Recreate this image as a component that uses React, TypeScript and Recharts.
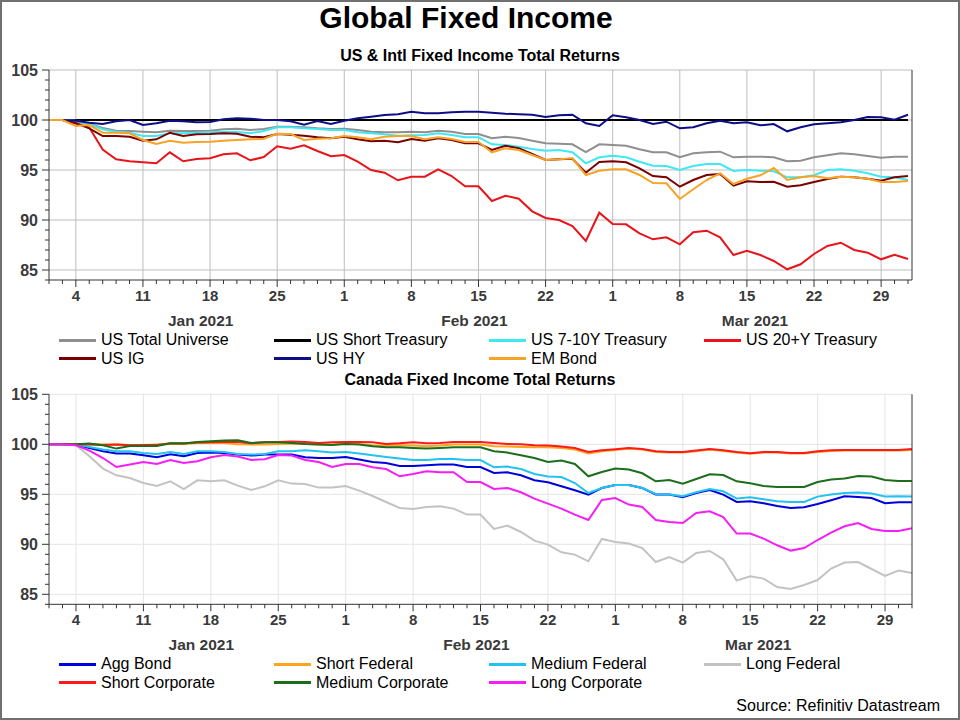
import React from "react"
import { LineChart, Line, XAxis, YAxis, CartesianGrid, Legend } from "recharts"

// business days, 31 Dec 2020 .. 31 Mar 2021
const dates = [
  "2020-12-31", "2021-01-01",
  "2021-01-04", "2021-01-05", "2021-01-06", "2021-01-07", "2021-01-08",
  "2021-01-11", "2021-01-12", "2021-01-13", "2021-01-14", "2021-01-15",
  "2021-01-18", "2021-01-19", "2021-01-20", "2021-01-21", "2021-01-22",
  "2021-01-25", "2021-01-26", "2021-01-27", "2021-01-28", "2021-01-29",
  "2021-02-01", "2021-02-02", "2021-02-03", "2021-02-04", "2021-02-05",
  "2021-02-08", "2021-02-09", "2021-02-10", "2021-02-11", "2021-02-12",
  "2021-02-15", "2021-02-16", "2021-02-17", "2021-02-18", "2021-02-19",
  "2021-02-22", "2021-02-23", "2021-02-24", "2021-02-25", "2021-02-26",
  "2021-03-01", "2021-03-02", "2021-03-03", "2021-03-04", "2021-03-05",
  "2021-03-08", "2021-03-09", "2021-03-10", "2021-03-11", "2021-03-12",
  "2021-03-15", "2021-03-16", "2021-03-17", "2021-03-18", "2021-03-19",
  "2021-03-22", "2021-03-23", "2021-03-24", "2021-03-25", "2021-03-26",
  "2021-03-29", "2021-03-30", "2021-03-31",
]

const mondayIdx = [2, 7, 12, 17, 22, 27, 32, 37, 42, 47, 52, 57, 62]
const mondayLabels = ["4", "11", "18", "25", "1", "8", "15", "22", "1", "8", "15", "22", "29"]
const monthLabels = ["Jan 2021", "Feb 2021", "Mar 2021"]
const monthCenters = [11.3, 31.7, 52.6]
const yTicks = [84, 85, 86, 87, 88, 89, 90, 91, 92, 93, 94, 95, 96, 97, 98, 99, 100, 101, 102, 103, 104, 105]
const yGrid = [85, 90, 95, 100, 105]

// US & Intl
const usTotalUniverse = [
  100, 100, 99.87, 99.6, 99.2, 98.93, 98.9, 98.83, 98.77, 98.93, 98.9, 98.9, 98.93, 99.07, 99.13, 99.0, 99.1, 99.33, 99.33, 99.27, 99.17, 99.1,
  99.13, 99.0, 98.83, 98.77, 98.77, 98.83, 98.77, 98.93, 98.83, 98.6, 98.6, 98.17, 98.33, 98.2, 97.93, 97.67, 97.63, 97.57, 96.8, 97.57, 97.5,
  97.43, 97.07, 96.77, 96.77, 96.27, 96.67, 96.77, 96.83, 96.27, 96.33, 96.33, 96.27, 95.87, 95.93, 96.27, 96.47, 96.67, 96.57, 96.4, 96.23, 96.33, 96.33,
]
const usShortTreasury = [
  100, 100, 100, 100, 100, 100, 100, 100, 100, 100, 100, 100, 100, 100, 100, 100, 100, 100, 100, 100, 100, 100,
  100, 100, 100, 100, 100, 100, 100, 100, 100, 100, 100, 100, 100, 100, 100, 100, 100, 100, 100, 100, 100,
  100, 100, 100, 100, 100, 100, 100, 100, 100, 100, 100, 100, 100, 100, 100, 100, 100, 100, 100, 100, 100, 100,
]
const us710Treasury = [
  100, 100, 99.93, 99.6, 99.07, 98.83, 98.73, 98.4, 98.4, 98.67, 98.67, 98.73, 98.77, 98.83, 98.8, 98.67, 98.9, 99.27, 99.27, 99.17, 99.1, 99.0,
  99.0, 98.77, 98.67, 98.57, 98.43, 98.47, 98.5, 98.67, 98.5, 98.27, 98.27, 97.57, 97.5, 97.33, 97.1, 96.93, 97.0, 96.77, 95.67, 96.27, 96.43,
  96.27, 95.83, 95.43, 95.4, 95.0, 95.4, 95.6, 95.6, 94.9, 95.0, 94.93, 94.87, 94.27, 94.27, 94.47, 95.0, 95.07, 94.93, 94.67, 94.33, 94.27, 94.0,
]
const us20Treasury = [
  100, 100, 99.67, 99.25, 97.05, 96.07, 95.87, 95.77, 95.67, 96.77, 95.87, 96.1, 96.17, 96.57, 96.67, 95.97, 96.3, 97.37, 97.13, 97.47, 96.9, 96.37,
  96.5, 95.83, 95.0, 94.73, 93.97, 94.33, 94.33, 95.07, 94.4, 93.37, 93.37, 91.9, 92.43, 92.13, 90.87, 90.2, 90.0, 89.4, 87.9, 90.73, 89.6,
  89.57, 88.67, 88.07, 88.27, 87.57, 88.77, 88.93, 88.27, 86.5, 86.93, 86.5, 85.9, 85.07, 85.57, 86.6, 87.4, 87.73, 87.0, 86.73, 86.07, 86.53, 86.1,
]
const usIG = [
  100, 100, 99.67, 99.17, 98.4, 98.4, 98.33, 97.93, 98.07, 98.73, 98.4, 98.57, 98.6, 98.67, 98.63, 98.33, 98.27, 98.6, 98.53, 98.43, 98.27, 98.17,
  98.33, 98.07, 97.87, 97.93, 97.77, 98.1, 97.93, 98.17, 98.0, 97.67, 97.67, 97.0, 97.43, 97.17, 96.6, 96.0, 96.07, 96.13, 94.73, 95.8, 95.87,
  95.77, 95.17, 94.4, 94.27, 93.33, 94.0, 94.5, 94.6, 93.43, 93.87, 93.8, 93.83, 93.33, 93.47, 93.8, 94.1, 94.33, 94.27, 94.13, 93.93, 94.27, 94.4,
]
const usHY = [
  100, 100, 99.93, 99.73, 99.6, 99.87, 100.0, 99.5, 99.67, 99.93, 99.87, 99.77, 99.8, 100.07, 100.17, 100.13, 100.0, 100.0, 99.87, 99.53, 99.9, 99.6,
  99.93, 100.17, 100.33, 100.5, 100.57, 100.83, 100.67, 100.67, 100.77, 100.83, 100.83, 100.73, 100.63, 100.57, 100.53, 100.3, 100.47, 100.53, 99.67, 99.4, 100.47,
  100.27, 100.0, 99.6, 99.83, 99.17, 99.27, 99.67, 99.93, 99.67, 99.77, 99.47, 99.6, 98.87, 99.27, 99.57, 99.67, 99.77, 100.0, 100.3, 100.27, 100.03, 100.53,
]
const emBond = [
  100, 100, 99.4, 99.5, 98.73, 98.73, 98.67, 98.0, 97.6, 97.93, 97.73, 97.8, 97.83, 97.93, 98.0, 98.07, 98.13, 98.63, 98.6, 98.0, 98.13, 98.17,
  98.4, 98.27, 98.07, 98.33, 98.4, 98.4, 98.07, 98.27, 98.1, 97.8, 97.8, 96.77, 97.17, 97.0, 96.5, 96.0, 96.07, 96.17, 94.5, 94.93, 95.07,
  95.07, 94.5, 93.7, 93.67, 92.1, 93.07, 94.0, 94.67, 93.6, 94.13, 94.47, 95.2, 94.0, 94.27, 94.4, 94.17, 94.33, 94.27, 94.13, 93.8, 93.8, 93.9,
]

// Canada
const aggBond = [
  100, 100, 99.93, 99.63, 99.3, 99.07, 99.07, 98.9, 98.7, 99.0, 98.8, 99.13, 99.17, 99.13, 98.97, 98.87, 98.97, 98.97, 98.97, 98.7, 98.63, 98.63,
  98.73, 98.47, 98.23, 98.13, 97.83, 97.83, 97.9, 97.97, 97.97, 97.73, 97.73, 97.13, 97.2, 96.9, 96.4, 96.2, 95.8, 95.4, 94.97, 95.63, 95.93,
  95.93, 95.63, 94.97, 94.97, 94.7, 95.13, 95.43, 94.97, 94.23, 94.3, 94.1, 93.83, 93.63, 93.7, 94.03, 94.4, 94.8, 94.73, 94.63, 94.1, 94.2, 94.2,
]
const shortFederal = [
  100, 100, 100, 100.0, 99.97, 99.97, 99.93, 99.93, 99.97, 100.03, 100.03, 100.13, 100.13, 100.13, 100.0, 99.97, 99.97, 100.03, 100.07, 100.03, 99.97, 99.97,
  100.07, 100.03, 99.9, 99.87, 99.9, 99.87, 99.8, 99.87, 99.97, 99.97, 99.97, 99.8, 99.77, 99.73, 99.7, 99.7, 99.63, 99.47, 99.07, 99.3, 99.43,
  99.57, 99.47, 99.23, 99.17, 99.17, 99.3, 99.47, 99.33, 99.17, 99.05, 99.17, 99.17, 99.07, 99.07, 99.23, 99.33, 99.37, 99.37, 99.37, 99.37, 99.37, 99.43,
]
const mediumFederal = [
  100, 100, 99.97, 99.73, 99.47, 99.3, 99.3, 99.13, 99.03, 99.23, 99.03, 99.3, 99.3, 99.23, 99.03, 98.97, 99.03, 99.3, 99.3, 99.4, 99.3, 99.17,
  99.23, 99.07, 98.9, 98.73, 98.57, 98.43, 98.43, 98.53, 98.53, 98.43, 98.43, 97.7, 97.77, 97.53, 97.03, 96.77, 96.73, 96.13, 95.13, 95.63, 95.93,
  95.93, 95.63, 95.03, 94.97, 94.8, 95.2, 95.53, 95.3, 94.57, 94.7, 94.5, 94.3, 94.23, 94.23, 94.77, 94.97, 95.13, 95.17, 95.07, 94.77, 94.8, 94.77,
]
const longFederal = [
  100, 100, 99.9, 98.8, 97.57, 96.9, 96.63, 96.13, 95.83, 96.3, 95.53, 96.4, 96.3, 96.4, 95.87, 95.43, 95.8, 96.4, 96.07, 96.03, 95.67, 95.67,
  95.83, 95.37, 94.83, 94.23, 93.63, 93.53, 93.73, 93.8, 93.57, 92.97, 92.97, 91.53, 91.87, 91.23, 90.37, 89.97, 89.2, 88.97, 88.3, 90.53, 90.23,
  90.07, 89.63, 88.23, 88.73, 88.17, 89.13, 89.33, 88.5, 86.37, 86.8, 86.57, 85.73, 85.53, 85.93, 86.43, 87.57, 88.17, 88.23, 87.53, 86.83, 87.37, 87.13,
]
const shortCorporate = [
  100, 100, 100, 99.97, 99.93, 99.97, 99.9, 99.93, 99.93, 100.1, 100.1, 100.17, 100.2, 100.23, 100.23, 100.1, 100.2, 100.23, 100.27, 100.23, 100.13, 100.2,
  100.23, 100.23, 100.2, 100.03, 100.1, 100.2, 100.1, 100.13, 100.23, 100.23, 100.23, 100.13, 100.03, 100.0, 99.9, 99.87, 99.77, 99.63, 99.23, 99.4, 99.5,
  99.63, 99.53, 99.3, 99.23, 99.23, 99.37, 99.53, 99.4, 99.23, 99.1, 99.23, 99.23, 99.13, 99.13, 99.3, 99.4, 99.43, 99.43, 99.43, 99.43, 99.43, 99.53,
]
const mediumCorporate = [
  100, 100, 100, 100.07, 99.9, 99.57, 99.83, 99.83, 99.83, 100.1, 100.07, 100.23, 100.3, 100.37, 100.4, 100.13, 100.2, 100.2, 100.13, 100.03, 99.97, 99.93,
  100.03, 99.97, 99.8, 99.7, 99.7, 99.63, 99.57, 99.63, 99.7, 99.7, 99.7, 99.3, 99.17, 98.9, 98.63, 98.23, 98.37, 98.03, 96.8, 97.23, 97.57,
  97.47, 97.1, 96.3, 96.43, 96.07, 96.53, 97.0, 96.93, 96.3, 96.1, 95.83, 95.73, 95.73, 95.73, 96.23, 96.47, 96.57, 96.83, 96.77, 96.43, 96.33, 96.33,
]
const longCorporate = [
  100, 100, 99.9, 99.37, 98.63, 97.73, 97.97, 98.23, 98.03, 98.43, 98.13, 98.3, 98.7, 98.93, 98.77, 98.43, 98.5, 98.93, 98.87, 98.43, 98.23, 97.73,
  98.03, 98.03, 97.7, 97.53, 96.8, 97.03, 97.3, 97.2, 97.2, 96.23, 96.23, 95.53, 95.63, 95.2, 94.57, 94.07, 93.57, 92.97, 92.43, 94.43, 94.63,
  93.97, 93.73, 92.43, 92.23, 92.13, 93.13, 93.3, 92.73, 91.07, 91.07, 90.57, 89.9, 89.37, 89.63, 90.43, 91.17, 91.8, 92.13, 91.53, 91.33, 91.33, 91.6,
]

const usSeries = [
  { key: "usTotal", name: "US Total Universe", color: "#8f8f8f", values: usTotalUniverse },
  { key: "usShort", name: "US Short Treasury", color: "#000000", values: usShortTreasury },
  { key: "us710", name: "US 7-10Y Treasury", color: "#3ee9f2", values: us710Treasury },
  { key: "us20", name: "US 20+Y Treasury", color: "#e8141a", values: us20Treasury },
  { key: "usIG", name: "US IG", color: "#7a0000", values: usIG },
  { key: "usHY", name: "US HY", color: "#0d0d86", values: usHY },
  { key: "em", name: "EM Bond", color: "#f7a325", values: emBond },
]

const caSeries = [
  { key: "agg", name: "Agg Bond", color: "#0000dd", values: aggBond },
  { key: "sFed", name: "Short Federal", color: "#ffa41c", values: shortFederal },
  { key: "mFed", name: "Medium Federal", color: "#22c2f2", values: mediumFederal },
  { key: "lFed", name: "Long Federal", color: "#c3c3c3", values: longFederal },
  { key: "sCorp", name: "Short Corporate", color: "#ff1a1a", values: shortCorporate },
  { key: "mCorp", name: "Medium Corporate", color: "#1b6e1b", values: mediumCorporate },
  { key: "lCorp", name: "Long Corporate", color: "#f51ef5", values: longCorporate },
]

type Series = { key: string; name: string; color: string; values: number[] }

const toRows = (series: Series[]) =>
  dates.map((d, i) => {
    const row: any = { i, date: d }
    series.forEach((s) => (row[s.key] = s.values[i]))
    return row
  })

const FONT = "'Liberation Sans', Arial, sans-serif"
const AXIS = "#333333"
const dayTicks = dates.map((_, i) => i)

const DayTick = (props: any) => {
  const { x, y, payload } = props
  const k = mondayIdx.indexOf(payload.value)
  const major = k >= 0
  return (
    <g>
      <line x1={x} y1={y} x2={x} y2={y + (major ? 7 : 4)} stroke={AXIS} />
      {major && (
        <text x={x} y={y + 21} textAnchor="middle" fontFamily={FONT} fontSize={15} fontWeight="bold" fill="#3a3a3a">
          {mondayLabels[k]}
        </text>
      )}
    </g>
  )
}

const MonthTick = (props: any) => {
  const { x, y, payload } = props
  const k = monthCenters.indexOf(payload.value)
  return (
    <text x={x} y={y + 22} textAnchor="middle" fontFamily={FONT} fontSize={15.5} fontWeight="bold" fill="#3a3a3a">
      {monthLabels[k]}
    </text>
  )
}

const SideTick = (props: any) => {
  const { x, y, payload, side } = props
  const major = payload.value % 5 === 0
  const dir = side === "left" ? -1 : 1
  return (
    <g>
      <line x1={x} y1={y} x2={x + dir * (major ? 7 : 4)} y2={y} stroke={AXIS} />
      {major && (
        <text
          x={x + dir * 11}
          y={y + 5.5}
          textAnchor={side === "left" ? "end" : "start"}
          fontFamily={FONT}
          fontSize={16}
          fontWeight="bold"
          fill="#3a3a3a"
        >
          {payload.value}
        </text>
      )}
    </g>
  )
}

const LegendBox = ({ items }: { items: Series[] }) => (
  <div style={{ position: "relative", width: 960, height: 38, fontFamily: FONT, fontSize: 16, color: "#000" }}>
    {items.map((s, n) => (
      <div
        key={s.key}
        style={{
          position: "absolute",
          left: 59 + (n % 4) * 215,
          top: Math.floor(n / 4) * 18.5,
          height: 18,
          display: "flex",
          alignItems: "center",
          whiteSpace: "nowrap",
        }}
      >
        <span style={{ display: "inline-block", width: 37, height: 3, background: s.color, marginRight: 5 }} />
        {s.name}
      </div>
    ))}
  </div>
)

interface PanelProps {
  series: Series[]
  height: number
  top: number
  bottom: number
  xMax: number
  gridColor: string
  legendTop: number
}

function Panel({ series, height, top, bottom, xMax, gridColor, legendTop }: PanelProps) {
  const rows = toRows(series)
  return (
    <LineChart width={960} height={height} data={rows} margin={{ top, right: 0, bottom, left: 0 }}>
      <CartesianGrid
        xAxisId="d"
        yAxisId="l"
        stroke={gridColor}
        verticalValues={mondayIdx}
        horizontalValues={yGrid}
      />
      <XAxis
        xAxisId="d"
        dataKey="i"
        type="number"
        domain={[0, xMax]}
        ticks={dayTicks}
        interval={0}
        height={24}
        tickSize={0}
        tickMargin={0}
        tickLine={false}
        axisLine={{ stroke: AXIS }}
        tick={(p: any) => <DayTick {...p} />}
      />
      <XAxis
        xAxisId="m"
        dataKey="i"
        type="number"
        domain={[0, xMax]}
        ticks={monthCenters}
        interval={0}
        height={30}
        tickSize={0}
        tickMargin={0}
        tickLine={false}
        axisLine={false}
        tick={(p: any) => <MonthTick {...p} />}
      />
      <YAxis
        yAxisId="l"
        orientation="left"
        width={49}
        domain={[84, 105]}
        ticks={yTicks}
        interval={0}
        tickSize={0}
        tickMargin={0}
        tickLine={false}
        axisLine={{ stroke: AXIS }}
        tick={(p: any) => <SideTick {...p} side="left" />}
      />
      <YAxis
        yAxisId="r"
        orientation="right"
        width={48}
        domain={[84, 105]}
        ticks={yTicks}
        interval={0}
        tickSize={0}
        tickMargin={0}
        tickLine={false}
        axisLine={{ stroke: AXIS }}
        tick={(p: any) => <SideTick {...p} side="right" />}
      />
      {series.map((s) => (
        <Line
          key={s.key}
          xAxisId="d"
          yAxisId="l"
          type="linear"
          dataKey={s.key}
          name={s.name}
          stroke={s.color}
          strokeWidth={2}
          dot={false}
          isAnimationActive={false}
        />
      ))}
      <Legend
        layout="horizontal"
        verticalAlign="middle"
        align="center"
        wrapperStyle={{ left: 0, top: legendTop, width: 960 }}
        content={() => <LegendBox items={series} />}
      />
    </LineChart>
  )
}

export default function App() {
  return (
    <div
      style={{
        position: "absolute",
        left: 0,
        top: 0,
        width: 960,
        height: 720,
        boxSizing: "border-box",
        border: "2px solid #707070",
        background: "#fff",
        overflow: "hidden",
      }}
    >
      <div style={{ position: "absolute", left: -2, top: -2, width: 960, height: 720 }}>
        <div
          style={{
            position: "absolute",
            top: 1,
            left: -14,
            width: 960,
            textAlign: "center",
            fontFamily: FONT,
            fontWeight: "bold",
            fontSize: 30,
            color: "#000",
          }}
        >
          Global Fixed Income
        </div>
        <div
          style={{
            position: "absolute",
            top: 47,
            width: 960,
            textAlign: "center",
            fontFamily: FONT,
            fontWeight: "bold",
            fontSize: 16,
            color: "#000",
          }}
        >
          US &amp; Intl Fixed Income Total Returns
        </div>
        <div style={{ position: "absolute", left: 0, top: 0 }}>
          <Panel series={usSeries} height={370} top={70} bottom={36} xMax={64.3} gridColor="#bdbdbd" legendTop={331} />
        </div>
        <div
          style={{
            position: "absolute",
            top: 371,
            width: 960,
            textAlign: "center",
            fontFamily: FONT,
            fontWeight: "bold",
            fontSize: 16,
            color: "#000",
          }}
        >
          Canada Fixed Income Total Returns
        </div>
        <div style={{ position: "absolute", left: 0, top: 370 }}>
          <Panel series={caSeries} height={350} top={24.3} bottom={61.7} xMax={64} gridColor="#e4e4e4" legendTop={285} />
        </div>
        <div
          style={{
            position: "absolute",
            right: 20,
            top: 697,
            fontFamily: FONT,
            fontSize: 16,
            color: "#000",
          }}
        >
          Source: Refinitiv Datastream
        </div>
      </div>
    </div>
  )
}
